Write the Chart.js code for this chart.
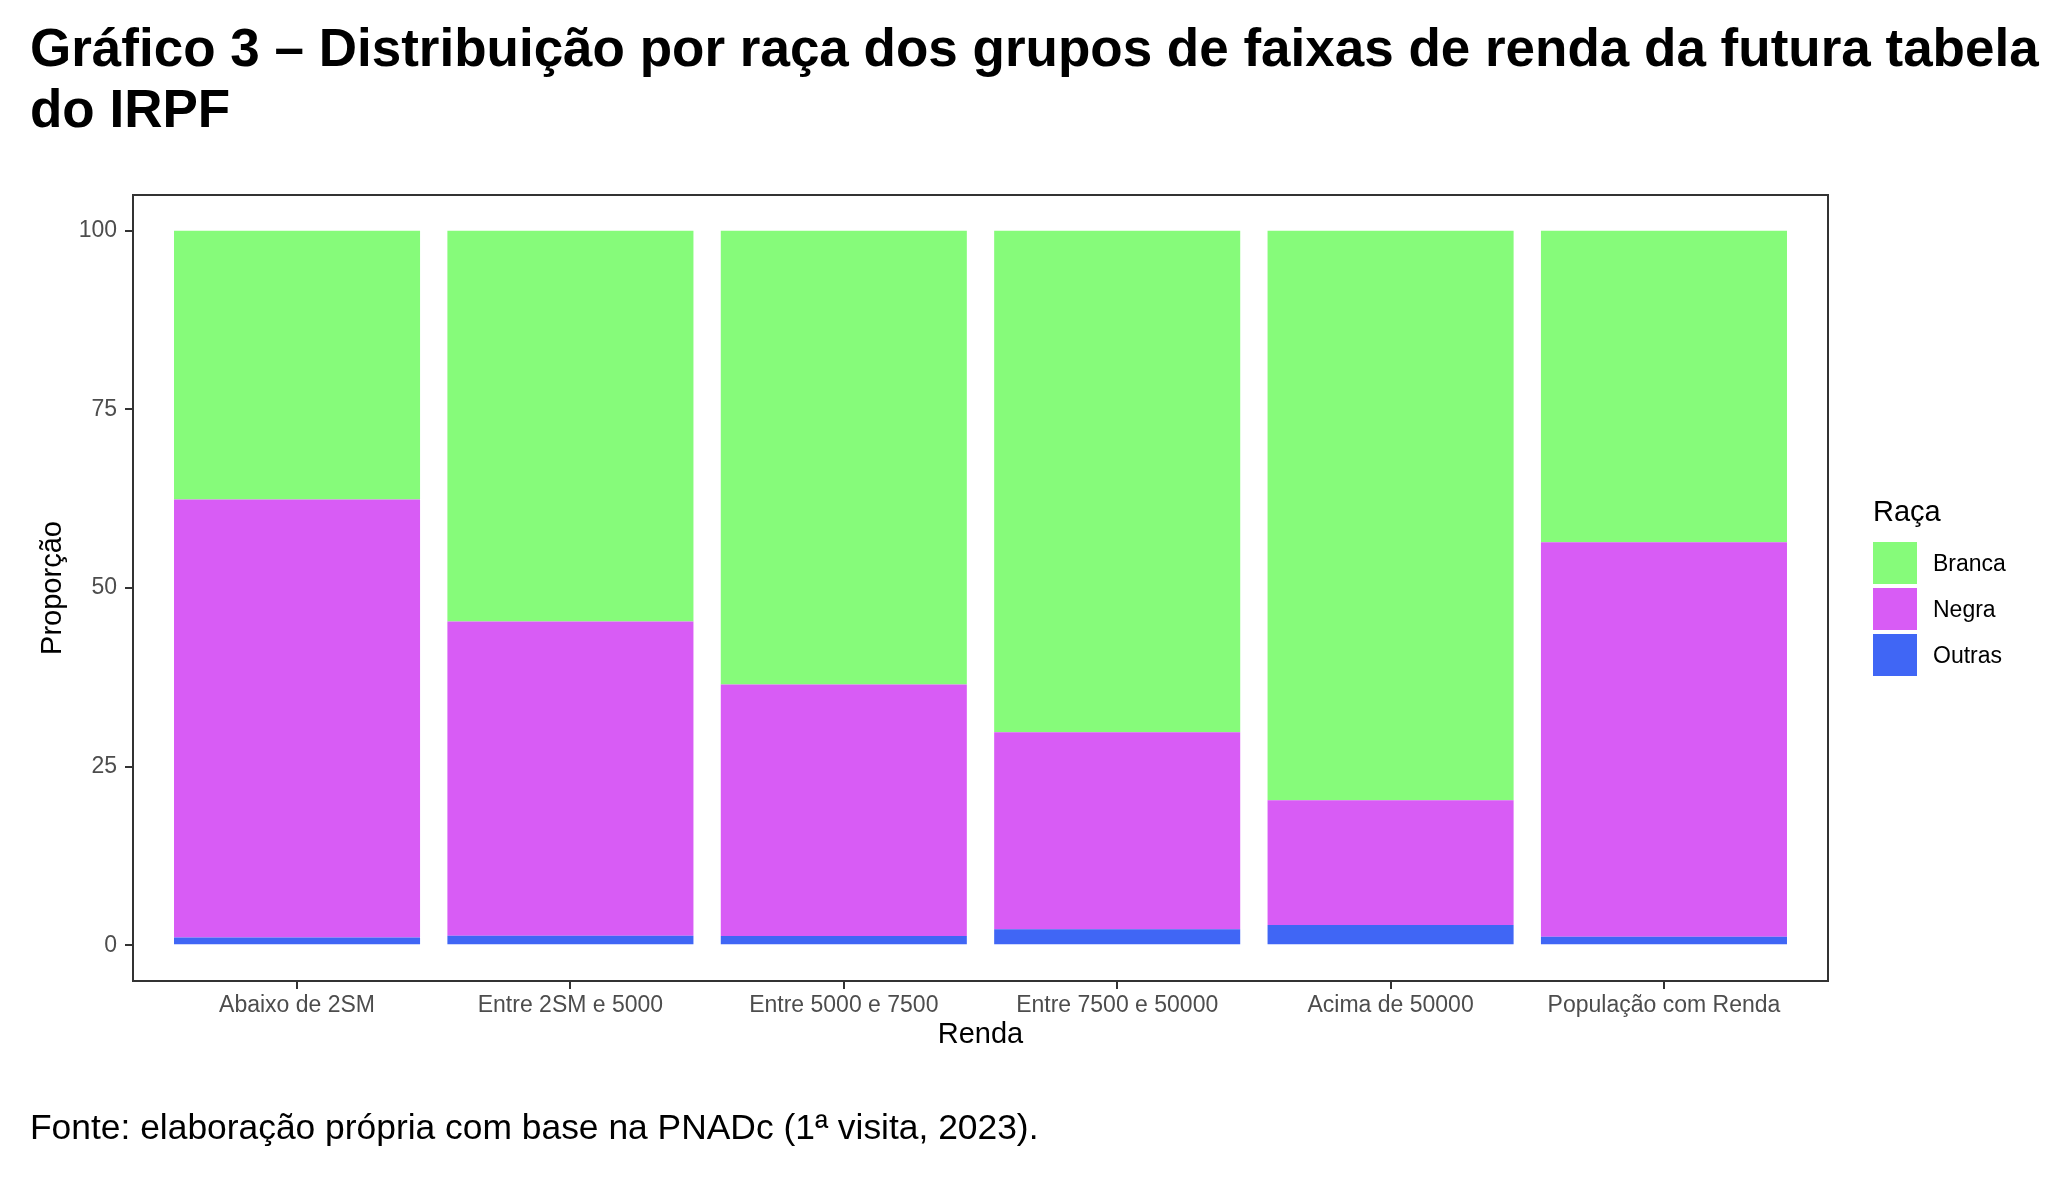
<!DOCTYPE html>
<html>
<head>
<meta charset="utf-8">
<script src="https://cdn.jsdelivr.net/npm/chart.js@4.4.1/dist/chart.umd.min.js"></script>
<style>
  html, body { margin: 0; padding: 0; background: #ffffff; overflow: hidden; }
  body { width: 2060px; height: 1178px; position: relative; font-family: "Liberation Sans", Arial, sans-serif; }
  #chart { position: absolute; left: 0; top: 0; }
  #title { position: absolute; left: 30px; top: 17px; font-size: 53px; line-height: 61px; font-weight: bold; color: #000; white-space: nowrap; }
  #footer { position: absolute; left: 30px; top: 1107px; font-size: 35.4px; line-height: 40px; color: #000; white-space: nowrap; }
  #legend { position: absolute; left: 1873px; top: 494px; color: #000; }
  #legend .ttl { font-size: 29px; line-height: 34px; margin-bottom: 14px; }
  #legend .row { display: flex; align-items: center; height: 42px; margin-bottom: 4px; }
  #legend .key { width: 44px; height: 42px; margin-right: 16px; }
  #legend .lab { font-size: 23px; }
</style>
</head>
<body>
<div id="title">Gráfico 3 – Distribuição por raça dos grupos de faixas de renda da futura tabela<br>do IRPF</div>
<canvas id="chart" width="2060" height="1178"></canvas>
<div id="legend"></div>
<div id="footer">Fonte: elaboração própria com base na PNADc (1ª visita, 2023).</div>
<script>
// ---- data ----
const categories = ['Abaixo de 2SM', 'Entre 2SM e 5000', 'Entre 5000 e 7500', 'Entre 7500 e 50000', 'Acima de 50000', 'População com Renda'];
const outras = [1.1, 1.35, 1.3, 2.25, 2.85, 1.2];
const negra  = [61.3, 43.95, 35.2, 27.55, 17.45, 55.2];
const branca = [37.6, 54.7, 63.5, 70.2, 79.7, 43.6];
const yTicks = [0, 25, 50, 75, 100];
const seriesNames = ['Outras', 'Negra', 'Branca'];
const legendTitle = 'Raça';
const xTitle = 'Renda';
const yTitle = 'Proporção';

const colors = { 'Branca': '#86FB7A', 'Negra': '#D85CF5', 'Outras': '#4066F5' };
const seriesValues = [outras, negra, branca];

Chart.defaults.font.family = '"Liberation Sans", Arial, sans-serif';

const toPoints = (arr) => arr.map((v, i) => ({ x: i + 1, y: v }));

const panelBorder = {
  id: 'panelBorder',
  afterDraw(chart) {
    const { ctx, chartArea: a } = chart;
    ctx.save();
    ctx.strokeStyle = '#333333';
    ctx.lineWidth = 2;
    ctx.strokeRect(a.left, a.top, a.right - a.left, a.bottom - a.top);
    ctx.restore();
  }
};

const chart = new Chart(document.getElementById('chart'), {
  type: 'bar',
  data: {
    datasets: seriesNames.map((name, k) => ({
      label: name,
      data: toPoints(seriesValues[k]),
      backgroundColor: colors[name],
      borderWidth: 0,
      barPercentage: 0.9,
      categoryPercentage: 1.0
    }))
  },
  options: {
    responsive: false,
    animation: false,
    devicePixelRatio: 1,
    layout: { padding: { left: 0, top: 195, right: 232, bottom: 117 } },
    plugins: { legend: { display: false }, tooltip: { enabled: false } },
    scales: {
      x: {
        type: 'linear',
        stacked: true,
        offset: false,
        min: 0.4,
        max: 6.6,
        afterBuildTicks: (axis) => { axis.ticks = categories.map((c, i) => ({ value: i + 1 })); },
        afterFit: (scale) => { scale.height = 80; },
        ticks: {
          callback: (v) => categories[Math.round(v) - 1],
          color: '#4D4D4D',
          font: { size: 23 },
          padding: 3,
          maxRotation: 0,
          autoSkip: false
        },
        grid: { offset: false, drawOnChartArea: false, drawTicks: true, tickLength: 8, color: '#333333', lineWidth: 2 },
        border: { display: false },
        title: { display: true, text: xTitle, color: '#000', font: { size: 29 }, padding: { top: 0, bottom: 9 } }
      },
      y: {
        stacked: true,
        min: -5,
        max: 105,
        afterBuildTicks: (axis) => { axis.ticks = yTicks.map(v => ({ value: v })); },
        afterFit: (scale) => { scale.width = 133; },
        ticks: { color: '#4D4D4D', font: { size: 23 }, padding: 8 },
        grid: { drawOnChartArea: false, drawTicks: true, tickLength: 8, color: '#333333', lineWidth: 2 },
        border: { display: false },
        title: { display: true, text: yTitle, color: '#000', font: { size: 29 }, padding: { top: 36, bottom: 0 } }
      }
    }
  },
  plugins: [panelBorder]
});

// ---- HTML legend built from the chart's own legend items ----
const legendEl = document.getElementById('legend');
const t = document.createElement('div');
t.className = 'ttl';
t.textContent = legendTitle;
legendEl.appendChild(t);
const items = Chart.defaults.plugins.legend.labels.generateLabels(chart).slice().reverse();
items.forEach(it => {
  const row = document.createElement('div');
  row.className = 'row';
  const key = document.createElement('div');
  key.className = 'key';
  key.style.background = it.fillStyle;
  const lab = document.createElement('div');
  lab.className = 'lab';
  lab.textContent = it.text;
  row.appendChild(key);
  row.appendChild(lab);
  legendEl.appendChild(row);
});
</script>
</body>
</html>
